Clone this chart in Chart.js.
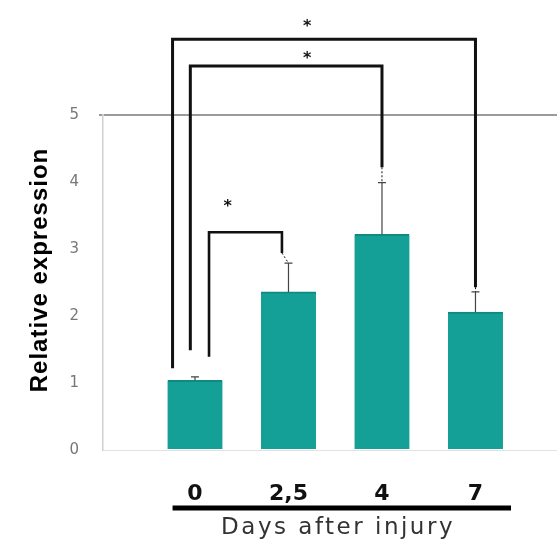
<!DOCTYPE html>
<html>
<head>
<meta charset="utf-8">
<script src="https://cdn.jsdelivr.net/npm/chart.js@4/dist/chart.umd.min.js"></script>
<style>
  html, body { margin: 0; padding: 0; background: #fff; }
  #wrap { width: 557px; height: 547px; }
</style>
</head>
<body>
<div id="wrap"><canvas id="chart" width="557" height="547"></canvas></div>
<script>
// Days after injury (tick labels) and bar values
const dayLabels  = ['0', '2,5', '4', '7'];
const expression = [1.04, 2.36, 3.22, 2.06];
const errors     = [0.05, 0.43, 0.77, 0.30];
const yTicks     = [0, 1, 2, 3, 4, 5];

// significance brackets (x in bar index units, y in expression units)
const bracketLeftX   = [-0.24, -0.05, 0.15];
const bracketRightX  = [3, 2, 0.93];
const bracketRightOf = [3, 2, 1];
const bracketTopY    = [6.13, 5.73, 3.25];
const bracketLeftY   = [1.22, 1.49, 1.39];
const bracketRightY  = [2.43, 4.22, 2.94];
const starX          = [1.2, 1.2, 0.35];
const starY          = [6.37, 5.9, 3.69];

const TEAL = '#15a097';

const annotations = {
  id: 'annotations',
  afterDatasetsDraw(chart) {
    const { ctx, scales: { x, y }, chartArea } = chart;
    ctx.save();

    // error bars
    ctx.strokeStyle = '#444';
    ctx.lineWidth = 1.2;
    expression.forEach((v, i) => {
      const px = x.getPixelForValue(i);
      const top = y.getPixelForValue(v + errors[i]);
      ctx.beginPath();
      ctx.moveTo(px, y.getPixelForValue(v));
      ctx.lineTo(px, top);
      ctx.moveTo(px - 4, top);
      ctx.lineTo(px + 4, top);
      ctx.stroke();
    });

    // brackets
    ctx.strokeStyle = '#111';
    ctx.lineJoin = 'miter';
    bracketTopY.forEach((ty, i) => {
      const lx = x.getPixelForValue(bracketLeftX[i]);
      const rx = x.getPixelForValue(bracketRightX[i]);
      ctx.lineWidth = i === 2 ? 2.6 : 3;
      ctx.beginPath();
      ctx.moveTo(lx, y.getPixelForValue(bracketLeftY[i]));
      ctx.lineTo(lx, y.getPixelForValue(ty));
      ctx.lineTo(rx, y.getPixelForValue(ty));
      ctx.lineTo(rx, y.getPixelForValue(bracketRightY[i]));
      ctx.stroke();

      // dotted link down to the error bar
      const b = bracketRightOf[i];
      ctx.lineWidth = 1;
      ctx.setLineDash([2, 2]);
      ctx.beginPath();
      ctx.moveTo(rx, y.getPixelForValue(bracketRightY[i]));
      ctx.lineTo(x.getPixelForValue(b), y.getPixelForValue(expression[b] + errors[b]));
      ctx.stroke();
      ctx.setLineDash([]);
    });

    // stars
    ctx.fillStyle = '#111';
    ctx.font = 'bold 16px "DejaVu Sans"';
    ctx.textAlign = 'center';
    ctx.textBaseline = 'middle';
    starX.forEach((sx, i) => {
      ctx.fillText('*', x.getPixelForValue(sx), y.getPixelForValue(starY[i]) + 4);
    });

    // thick rule under the day labels
    ctx.strokeStyle = '#000';
    ctx.lineWidth = 5;
    ctx.beginPath();
    ctx.moveTo(x.getPixelForValue(-0.24), chartArea.bottom + 58);
    ctx.lineTo(x.getPixelForValue(3.38), chartArea.bottom + 58);
    ctx.stroke();

    // x axis title
    ctx.font = '23px "DejaVu Sans"';
    ctx.letterSpacing = '2.5px';
    ctx.fillStyle = '#333';
    ctx.fillText('Days after injury', x.getPixelForValue(1.53), chartArea.bottom + 78);

    // y axis title
    ctx.translate(40, 270);
    ctx.rotate(-Math.PI / 2);
    ctx.font = 'bold 24px "Liberation Sans"';
    ctx.letterSpacing = '1px';
    ctx.fillStyle = '#000';
    ctx.fillText('Relative expression', 0, 0);

    ctx.restore();
  }
};

new Chart(document.getElementById('chart'), {
  type: 'bar',
  data: {
    datasets: [{
      data: expression.map((v, i) => ({ x: i, y: v })),
      backgroundColor: TEAL,
      borderColor: '#0e8a82',
      borderWidth: { top: 2, left: 0, right: 0, bottom: 0 },
      borderSkipped: 'bottom',
      barThickness: 55
    }]
  },
  options: {
    responsive: false,
    animation: false,
    layout: { padding: { top: 115, right: 0, left: 0, bottom: 0 } },
    plugins: { legend: { display: false }, tooltip: { enabled: false } },
    scales: {
      x: {
        type: 'linear',
        offset: false,
        min: -0.984,
        max: 3.872,
        afterBuildTicks: s => { s.ticks = dayLabels.map((_, i) => ({ value: i })); },
        afterFit: s => { s.height = 97; },
        grid: { display: false, offset: false },
        border: { display: true, color: '#e2e2e2', width: 1 },
        ticks: {
          autoSkip: false, maxRotation: 0, padding: 23,
          color: '#111',
          font: { family: 'DejaVu Sans', size: 22, weight: 'bold' },
          callback: v => dayLabels[v]
        }
      },
      y: {
        min: 0,
        max: 5,
        afterBuildTicks: s => { s.ticks = yTicks.map(v => ({ value: v })); },
        afterFit: s => { s.width = 103; },
        grid: {
          color: c => c.tick && c.tick.value === 5 ? '#9a9a9a' : 'rgba(0,0,0,0)',
          lineWidth: 2,
          tickLength: 4
        },
        border: { display: true, color: '#d0d0d0', width: 1.5 },
        ticks: {
          padding: 20,
          color: '#777',
          font: { family: 'DejaVu Sans', size: 15 }
        }
      }
    }
  },
  plugins: [annotations]
});
</script>
</body>
</html>
